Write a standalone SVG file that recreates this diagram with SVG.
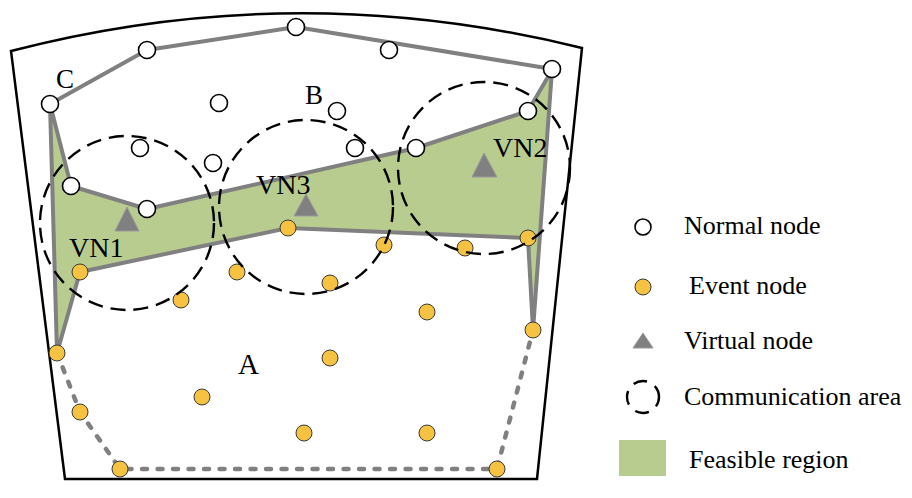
<svg xmlns="http://www.w3.org/2000/svg" width="912" height="498" viewBox="0 0 912 498">
<style>
.nn{fill:#fff;stroke:#000;stroke-width:1.6}
.en{fill:#f5c242;stroke:#3a3a3a;stroke-width:1}
.vn{fill:#808080;stroke:#9a9a9a;stroke-width:1}
.ca{fill:none;stroke:#000;stroke-width:2.4;stroke-dasharray:15 8}
.lb{font-family:"Liberation Serif","Times New Roman",serif;fill:#000}
.gl{fill:none;stroke:#808080;stroke-width:4;stroke-linejoin:round}
</style>
<rect width="912" height="498" fill="#fff"/>
<path id="border" d="M 11 51 Q 296 -23 582 48 L 537 479 L 65 479 Z" fill="none" stroke="#000" stroke-width="2.5"/>
<g id="feasible-region">
<polygon points="50,104 71,186 147,209 416,148 528,111 552,70 533,330 528,238 288,228 80,272 57,353" fill="#b9cc90" stroke="#808080" stroke-width="4" stroke-linejoin="round"/>
</g>
<g id="connectors">
<polyline class="gl" points="50,104 147,50 296,27 552,69"/>
<polyline fill="none" stroke="#808080" stroke-width="4.5" stroke-linecap="round" stroke-dasharray="5 10.5" points="57,353 80,412 120,469 497,469 533,330"/>
</g>
<g id="normal-nodes">
<circle class="nn" cx="50" cy="104" r="8.5"/>
<circle class="nn" cx="147" cy="50" r="8.5"/>
<circle class="nn" cx="296" cy="27" r="8.5"/>
<circle class="nn" cx="389" cy="50" r="8.5"/>
<circle class="nn" cx="552" cy="69" r="8.5"/>
<circle class="nn" cx="219" cy="103" r="8.5"/>
<circle class="nn" cx="337" cy="111" r="8.5"/>
<circle class="nn" cx="140" cy="148" r="8.5"/>
<circle class="nn" cx="213" cy="163" r="8.5"/>
<circle class="nn" cx="355" cy="148" r="8.5"/>
<circle class="nn" cx="416" cy="148" r="8.5"/>
<circle class="nn" cx="528" cy="111" r="8.5"/>
<circle class="nn" cx="71" cy="186" r="8.5"/>
<circle class="nn" cx="147" cy="209" r="8.5"/>
</g>
<g id="event-nodes">
<circle class="en" cx="80" cy="272" r="8"/>
<circle class="en" cx="181" cy="300" r="8"/>
<circle class="en" cx="237" cy="272" r="8"/>
<circle class="en" cx="288" cy="228" r="8"/>
<circle class="en" cx="330" cy="283" r="8"/>
<circle class="en" cx="384" cy="245" r="8"/>
<circle class="en" cx="465" cy="248" r="8"/>
<circle class="en" cx="528" cy="238" r="8"/>
<circle class="en" cx="427" cy="312" r="8"/>
<circle class="en" cx="533" cy="330" r="8"/>
<circle class="en" cx="57" cy="353" r="8"/>
<circle class="en" cx="330" cy="358" r="8"/>
<circle class="en" cx="202" cy="397" r="8"/>
<circle class="en" cx="80" cy="412" r="8"/>
<circle class="en" cx="304" cy="433" r="8"/>
<circle class="en" cx="427" cy="433" r="8"/>
<circle class="en" cx="120" cy="469" r="8"/>
<circle class="en" cx="497" cy="469" r="8"/>
</g>
<g id="VN1">
<polygon class="vn" points="127,207 139,231 115,231"/>
<circle class="ca" cx="127" cy="223" r="87"/>
<text class="lb" x="69" y="257" font-size="28">VN1</text>
</g>
<g id="VN3">
<polygon class="vn" points="306,194 318,216 294,216"/>
<circle class="ca" cx="306" cy="207" r="87"/>
<text class="lb" x="256" y="194" font-size="28">VN3</text>
</g>
<g id="VN2">
<polygon class="vn" points="484,153 497,177 472,177"/>
<circle class="ca" cx="484" cy="168" r="86"/>
<text class="lb" x="493" y="157" font-size="28">VN2</text>
</g>
<g id="region-labels">
<text class="lb" x="56" y="88" font-size="27">C</text>
<text class="lb" x="305" y="104" font-size="27">B</text>
<text class="lb" x="238" y="374" font-size="29">A</text>
</g>
<g id="legend">
<circle class="nn" cx="643" cy="227" r="8"/>
<text class="lb" x="684" y="234" font-size="26">Normal node</text>
<circle class="en" cx="643" cy="287" r="8"/>
<text class="lb" x="689" y="294" font-size="26">Event node</text>
<polygon class="vn" points="643,333 653,348 633,348"/>
<text class="lb" x="684" y="349" font-size="26">Virtual node</text>
<circle fill="none" stroke="#000" stroke-width="2.4" stroke-dasharray="14 9" stroke-dashoffset="4" cx="643" cy="397" r="16"/>
<text class="lb" x="684" y="405" font-size="26">Communication area</text>
<rect x="619" y="440" width="47" height="36" fill="#b9cc90"/>
<text class="lb" x="689" y="468" font-size="26">Feasible region</text>
</g>
</svg>
